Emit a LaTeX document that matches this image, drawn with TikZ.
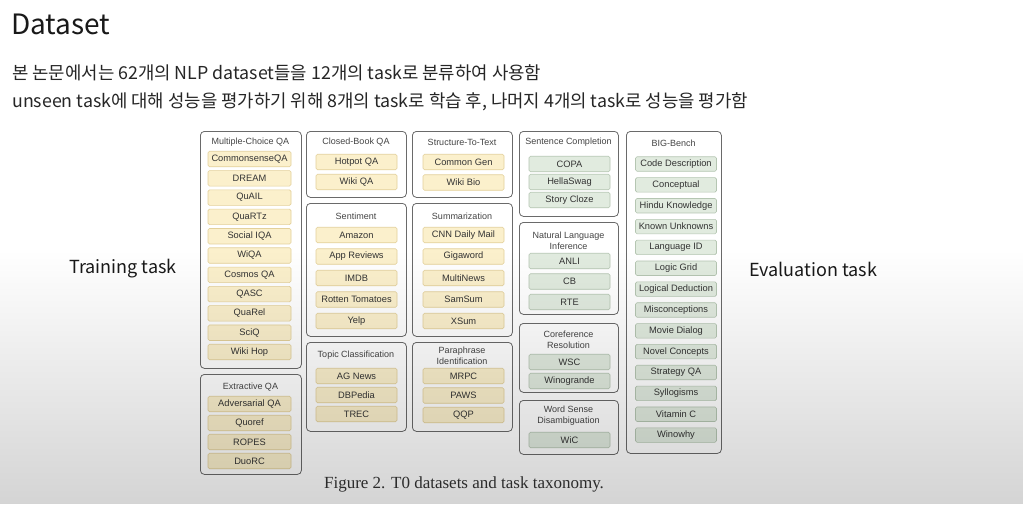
\documentclass[tikz,border=0pt]{standalone}
\usepackage{fontspec}
\setmainfont{Liberation Sans}
\newfontfamily\krfont{Noto Sans CJK KR}
\newfontfamily\capfont{Liberation Serif}
\usepackage{xcolor}
\usetikzlibrary{fadings}
\definecolor{groupline}{HTML}{6A6A6A}
\definecolor{titletext}{HTML}{444444}
\definecolor{itemtext}{HTML}{333333}
\definecolor{trainfill}{HTML}{FBF0CC}
\definecolor{trainline}{HTML}{E3D09A}
\definecolor{evalfill}{HTML}{E1EBDF}
\definecolor{evalline}{HTML}{B5C6B2}
\tikzfading[name=fade-down, top color=transparent!100, bottom color=transparent!0]
\tikzset{
    group-box/.style = {draw=groupline, line width=0.8pt, rectangle, rounded corners=4pt, inner sep=0pt, anchor=north west},
    group-title/.style = {text=titletext, font=\fontsize{9}{11}\selectfont, align=center},
    train-item/.style = {draw=trainline, fill=trainfill, line width=0.6pt, rectangle, rounded corners=1.5pt, inner sep=0pt, minimum width=81pt, minimum height=15.5pt, text=itemtext, font=\fontsize{9.3}{10}\selectfont},
    eval-item/.style = {train-item, draw=evalline, fill=evalfill},
    big-label/.style = {font=\krfont\fontsize{18}{22}\selectfont, text=black!90},
    intro-line/.style = {anchor=base west, font=\krfont\fontsize{17.8}{21}\selectfont, text=black!85, inner sep=0pt},
}

\begin{document}
\begin{tikzpicture}[x=1pt, y=-1pt]
\useasboundingbox (0,0) rectangle (1024,504);
\fill[white] (0,0) rectangle (1024,504);

\node[anchor=base west, font=\krfont\fontsize{28}{32}\selectfont, text=black!90, inner sep=0pt] (title) at (11,34) {Dataset};
\node[intro-line] (line-one) at (12,79) {본 논문에서는 62개의 NLP dataset들을 12개의 task로 분류하여 사용함};
\node[intro-line] (line-two) at (12,107) {unseen task에 대해 성능을 평가하기 위해 8개의 task로 학습 후, 나머지 4개의 task로 성능을 평가함};

\node[big-label] (train-label) at (123,269) {Training task};
\node[big-label] (eval-label) at (813,269) {Evaluation task};

\node[group-box, minimum width=101pt, minimum height=237pt] (mcqa) at (200,131) {};
\node[group-title] (mcqa-title) at (250.5,142) {Multiple-Choice QA};
\foreach \name [count=\i from 0] in {CommonsenseQA, DREAM, QuAIL, QuaRTz, Social IQA, WiQA, Cosmos QA, QASC, QuaRel, SciQ, Wiki Hop}
    \node[train-item, minimum width=83pt] (mcqa-\i) at (249.5,159+19.3*\i) {\name};

\node[group-box, minimum width=101pt, minimum height=100pt] (exqa) at (200,374) {};
\node[group-title] (exqa-title) at (250.5,387) {Extractive QA};
\foreach \name [count=\i from 0] in {Adversarial QA, Quoref, ROPES, DuoRC}
    \node[train-item, minimum width=83pt] (exqa-\i) at (249.5,404+19*\i) {\name};

\node[group-box, minimum width=100pt, minimum height=66pt] (cbqa) at (306,131) {};
\node[group-title] (cbqa-title) at (356,142) {Closed-Book QA};
\foreach \name [count=\i from 0] in {Hotpot QA, Wiki QA}
    \node[train-item] (cbqa-\i) at (356.5,162+20*\i) {\name};

\node[group-box, minimum width=100pt, minimum height=133pt] (senti) at (306,203) {};
\node[group-title] (senti-title) at (356,216) {Sentiment};
\foreach \name [count=\i from 0] in {Amazon, App Reviews, IMDB, Rotten Tomatoes, Yelp}
    \node[train-item] (senti-\i) at (356.5,235+21.5*\i) {\name};

\node[group-box, minimum width=100pt, minimum height=89pt] (topic) at (306,342) {};
\node[group-title] (topic-title) at (356,355) {Topic Classification};
\foreach \name [count=\i from 0] in {AG News, DBPedia, TREC}
    \node[train-item] (topic-\i) at (356.5,376+19*\i) {\name};

\node[group-box, minimum width=100pt, minimum height=66pt] (s2t) at (412,131) {};
\node[group-title] (s2t-title) at (462,142) {Structure-To-Text};
\foreach \name [count=\i from 0] in {Common Gen, Wiki Bio}
    \node[train-item] (s2t-\i) at (463.5,162+20.5*\i) {\name};

\node[group-box, minimum width=100pt, minimum height=133pt] (summ) at (412,203) {};
\node[group-title] (summ-title) at (462,216) {Summarization};
\foreach \name [count=\i from 0] in {CNN Daily Mail, Gigaword, MultiNews, SamSum, XSum}
    \node[train-item] (summ-\i) at (463.5,235+21.5*\i) {\name};

\node[group-box, minimum width=100pt, minimum height=89pt] (para) at (412,342) {};
\node[group-title] (para-title) at (462,356) {Paraphrase\\Identification};
\foreach \name [count=\i from 0] in {MRPC, PAWS, QQP}
    \node[train-item] (para-\i) at (463.5,376+19.5*\i) {\name};

\node[group-box, minimum width=99pt, minimum height=85pt] (sent) at (519,131) {};
\node[group-title] (sent-title) at (568.5,142) {Sentence Completion};
\foreach \name [count=\i from 0] in {COPA, HellaSwag, Story Cloze}
    \node[eval-item] (sent-\i) at (569.5,164+18*\i) {\name};

\node[group-box, minimum width=99pt, minimum height=92pt] (nli) at (519,222) {};
\node[group-title] (nli-title) at (568.5,240.5) {Natural Language\\Inference};
\foreach \name [count=\i from 0] in {ANLI, CB, RTE}
    \node[eval-item] (nli-\i) at (569.5,261+20.5*\i) {\name};

\node[group-box, minimum width=99pt, minimum height=69pt] (coref) at (519,323) {};
\node[group-title] (coref-title) at (568.5,339.5) {Coreference\\Resolution};
\foreach \name [count=\i from 0] in {WSC, Winogrande}
    \node[eval-item] (coref-\i) at (569.5,362+19*\i) {\name};

\node[group-box, minimum width=99pt, minimum height=54pt] (wsd) at (519,400) {};
\node[group-title] (wsd-title) at (568.5,415.5) {Word Sense\\Disambiguation};
\node[eval-item] (wsd-0) at (569.5,440) {WiC};

\node[group-box, minimum width=95pt, minimum height=322pt] (bigb) at (626,131) {};
\node[group-title] (bigb-title) at (673.5,143) {BIG-Bench};
\foreach \name [count=\i from 0] in {Code Description, Conceptual, Hindu Knowledge, Known Unknowns, Language ID, Logic Grid, Logical Deduction, Misconceptions, Movie Dialog, Novel Concepts, Strategy QA, Syllogisms, Vitamin C, Winowhy}
    \node[eval-item, minimum height=14.5pt] (bigb-\i) at (676,164+20.85*\i) {\name};

\node[anchor=base, font=\capfont\fontsize{17}{20}\selectfont, text=black!80] (caption) at (464,488) {Figure 2. T0 datasets and task taxonomy.};

\fill[black, opacity=0.17, path fading=fade-down] (0,250) rectangle (1024,504);
\end{tikzpicture}
\end{document}
